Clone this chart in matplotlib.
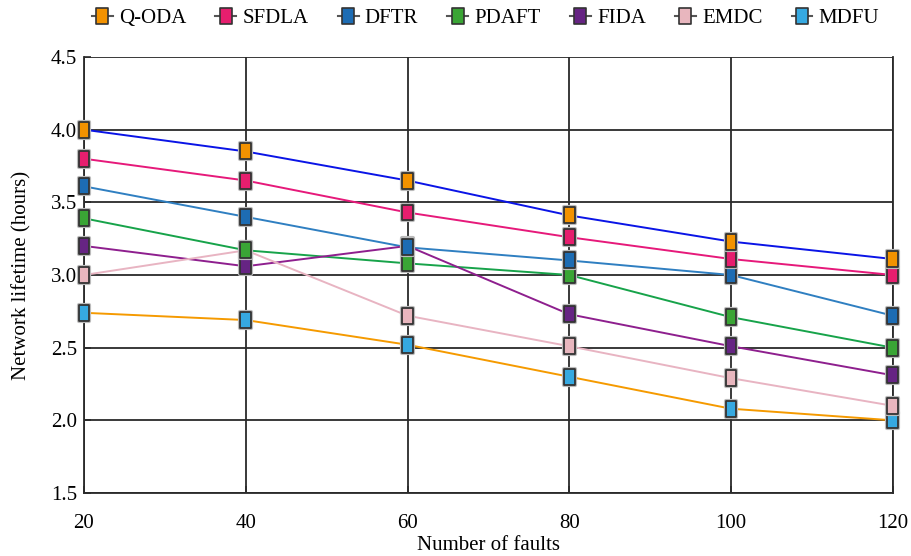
import matplotlib
matplotlib.use("Agg")
import matplotlib.pyplot as plt
import matplotlib.patheffects as pe
from matplotlib.path import Path
from matplotlib.lines import Line2D

plt.rcParams['font.family'] = ['Liberation Serif', 'DejaVu Serif']

faults = [20, 40, 60, 80, 100, 120]
names = ["Q-ODA", "SFDLA", "DFTR", "PDAFT", "FIDA", "EMDC", "MDFU"]
qoda = [4.00, 3.85, 3.65, 3.41, 3.23, 3.11]
sfdla = [3.80, 3.65, 3.43, 3.26, 3.11, 3.00]
dftr = [3.61, 3.40, 3.19, 3.10, 3.00, 2.72]
pdaft = [3.39, 3.17, 3.08, 3.00, 2.71, 2.50]
fida = [3.20, 3.06, 3.20, 2.73, 2.51, 2.31]
emdc = [3.00, 3.17, 2.72, 2.51, 2.29, 2.10]
mdfu = [2.74, 2.69, 2.52, 2.30, 2.08, 2.00]
series = [qoda, sfdla, dftr, pdaft, fida, emdc, mdfu]

# line colour and marker colour differ in the original
line_cols = ["#0a14e6", "#e6197a", "#2f7fc1", "#17a34a", "#8e1f8e", "#e8b4c2", "#f59a00"]
mark_cols = ["#f39200", "#e61e6e", "#1d6cb3", "#3aa535", "#662483", "#e8b6be", "#36a9e1"]

rect = Path([(-0.34, -0.5), (0.34, -0.5), (0.34, 0.5), (-0.34, 0.5), (-0.34, -0.5)],
            [Path.MOVETO, Path.LINETO, Path.LINETO, Path.LINETO, Path.CLOSEPOLY])

fig = plt.figure(figsize=(9.11, 5.56), dpi=100)
ax = fig.add_axes([0.0922, 0.1133, 0.8878, 0.7842])

for y, lc in zip(series, line_cols):
    ax.plot(faults, y, color=lc, lw=1.4, zorder=3)
halo = [pe.withStroke(linewidth=3, foreground="#bbbbbb")]
# earlier series sit on top of later ones
for i, (y, mc) in enumerate(zip(series, mark_cols)):
    ax.plot(faults, y, ls="none", marker=rect, ms=11.5, mfc=mc, mec="#333333",
            mew=1.3, zorder=20 - i, path_effects=halo, clip_on=False)

ax.set_xlim(20, 120)
ax.set_ylim(1.5, 4.5)
ax.set_xticks(faults)
ax.set_yticks([1.5, 2.0, 2.5, 3.0, 3.5, 4.0, 4.5])
ax.set_yticklabels(["1.5", "2.0", "2.5", "3.0", "3.5", "4.0", "4.5"])
ax.grid(True, color="#2a2a2a", lw=1.3)
ax.set_axisbelow(True)
ax.spines['top'].set_visible(False)
for s in ['left', 'bottom', 'right']:
    ax.spines[s].set_color("#2a2a2a")
    ax.spines[s].set_linewidth(1.3)
ax.tick_params(direction="in", length=5, width=1.2, color="#2a2a2a", labelsize=15)
ax.tick_params(axis="x", pad=15)
ax.tick_params(axis="y", pad=5)
ax.set_xlabel("Number of faults", fontsize=15, labelpad=2)
ax.set_ylabel("Network lifetime (hours)", fontsize=15, labelpad=14)

handles = [Line2D([], [], color="#555555", lw=1.5, marker=rect, ms=12, mfc=mc,
                  mec="#333333", mew=1.2) for mc in mark_cols]
fig.legend(handles, names, loc="center", bbox_to_anchor=(0.533, 0.967), ncol=7,
           frameon=False, fontsize=15, handlelength=1.0, handletextpad=0.3,
           columnspacing=1.4)

fig.savefig("out.png", dpi=100)
